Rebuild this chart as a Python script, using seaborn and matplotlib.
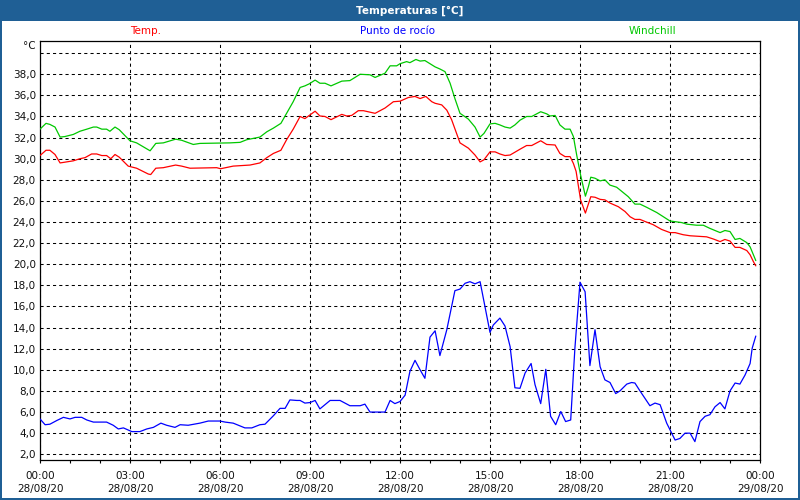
import matplotlib
matplotlib.use("Agg")
import matplotlib.pyplot as plt
from matplotlib.patches import Rectangle
from matplotlib.ticker import MultipleLocator, FixedLocator
import seaborn as sns
import pandas as pd

# ---------------- data ----------------
temp_hours = [0.0, 0.2, 0.33, 0.5, 0.67, 0.89, 1.11, 1.33, 1.5, 1.72, 1.89, 2.06, 2.22, 2.36, 2.5, 2.64,
              2.94, 3.22, 3.61, 3.69, 3.86, 4.11, 4.52, 4.72, 5.0, 5.89, 6.02, 6.44, 7.0, 7.33, 7.56,
              7.78, 8.03, 8.22, 8.44, 8.67, 8.83, 9.17, 9.33, 9.5, 9.7, 10.06, 10.22, 10.39, 10.61,
              10.78, 11.17, 11.5, 11.78, 12.0, 12.28, 12.5, 12.67, 12.86, 13.06, 13.17, 13.39, 13.56,
              13.72, 14.0, 14.28, 14.5, 14.67, 14.8, 15.0, 15.17, 15.33, 15.5, 15.67, 16.0, 16.22,
              16.39, 16.69, 16.89, 17.17, 17.33, 17.5, 17.67, 17.78, 17.87, 18.02, 18.18, 18.36, 18.5,
              18.67, 18.83, 19.0, 19.28, 19.5, 19.67, 19.83, 20.0, 20.17, 20.44, 20.72, 21.0, 21.17,
              21.44, 21.67, 22.22, 22.44, 22.67, 22.83, 23.0, 23.17, 23.33, 23.56, 23.67, 23.78, 23.86]
temp_values = [30.3, 30.8, 30.8, 30.4, 29.6, 29.7, 29.8, 30.0, 30.1, 30.45, 30.45, 30.3, 30.3, 30.0, 30.4,
               30.15, 29.3, 29.1, 28.55, 28.5, 29.1, 29.15, 29.4, 29.3, 29.1, 29.15, 29.05, 29.3, 29.4,
               29.6, 30.1, 30.5, 30.8, 31.8, 32.8, 34.0, 33.8, 34.5, 34.05, 34.0, 33.7, 34.2, 34.05,
               34.1, 34.55, 34.55, 34.3, 34.8, 35.4, 35.45, 35.8, 35.9, 35.7, 35.9, 35.4, 35.25, 35.1,
               34.6, 33.7, 31.5, 31.0, 30.35, 29.7, 29.9, 30.65, 30.65, 30.45, 30.3, 30.35, 30.9, 31.25,
               31.25, 31.7, 31.35, 31.3, 30.5, 30.2, 30.2, 29.55, 28.8, 26.1, 24.85, 26.4, 26.35, 26.15,
               26.1, 25.8, 25.45, 25.0, 24.5, 24.25, 24.25, 24.05, 23.75, 23.3, 23.0, 23.0, 22.8, 22.7,
               22.6, 22.4, 22.15, 22.35, 22.2, 21.6, 21.6, 21.3, 20.9, 20.25, 19.85]

dew_hours = [0.0, 0.17, 0.33, 0.56, 0.78, 1.0, 1.17, 1.39, 1.56, 1.78, 2.22, 2.44, 2.61, 2.78, 2.94, 3.06,
             3.33, 3.56, 3.78, 4.03, 4.22, 4.5, 4.67, 4.94, 5.33, 5.61, 6.0, 6.17, 6.44, 6.83, 7.06,
             7.33, 7.5, 7.78, 8.0, 8.17, 8.33, 8.56, 8.67, 8.83, 9.0, 9.17, 9.33, 9.67, 10.0, 10.33,
             10.67, 10.83, 11.0, 11.5, 11.67, 11.83, 12.0, 12.17, 12.33, 12.5, 12.67, 12.83, 13.0, 13.17,
             13.33, 13.56, 13.83, 14.0, 14.17, 14.33, 14.5, 14.67, 15.0, 15.11, 15.33, 15.5, 15.67,
             15.83, 16.0, 16.17, 16.37, 16.5, 16.69, 16.86, 17.02, 17.19, 17.36, 17.52, 17.69, 17.83,
             18.0, 18.17, 18.33, 18.5, 18.67, 18.83, 19.0, 19.19, 19.33, 19.56, 19.72, 19.83, 20.0,
             20.33, 20.5, 20.67, 20.89, 21.17, 21.33, 21.5, 21.67, 21.83, 22.0, 22.17, 22.33, 22.5,
             22.67, 22.83, 23.0, 23.17, 23.33, 23.5, 23.67, 23.74, 23.86]
dew_values = [5.35, 4.8, 4.85, 5.2, 5.5, 5.35, 5.5, 5.5, 5.25, 5.05, 5.05, 4.75, 4.4, 4.5, 4.3, 4.15,
              4.15, 4.4, 4.55, 4.95, 4.75, 4.55, 4.8, 4.75, 4.95, 5.15, 5.15, 5.05, 4.95, 4.5, 4.5,
              4.8, 4.85, 5.65, 6.35, 6.35, 7.15, 7.1, 7.1, 6.85, 6.9, 7.1, 6.3, 7.1, 7.1, 6.6,
              6.6, 6.75, 6.0, 6.0, 7.1, 6.8, 7.0, 7.6, 9.85, 10.9, 10.0, 9.2, 13.1, 13.7,
              11.35, 13.8, 17.5, 17.65, 18.2, 18.35, 18.15, 18.35, 13.55, 14.25, 14.9, 14.15, 12.2,
              8.3, 8.25, 9.7, 10.6, 8.6, 6.8, 10.05, 5.6, 4.8, 6.05, 5.1, 5.25, 12.05,
              18.3, 17.4, 10.4, 13.8, 10.3, 9.05, 8.8, 7.75, 8.0, 8.65, 8.8, 8.75, 8.0,
              6.6, 6.85, 6.7, 4.95, 3.35, 3.5, 4.0, 4.0, 3.2, 5.1, 5.6, 5.75, 6.5,
              6.9, 6.3, 8.0, 8.75, 8.65, 9.5, 10.6, 12.05, 13.2]

wind_hours = [0.0, 0.2, 0.33, 0.5, 0.67, 0.83, 1.11, 1.33, 1.56, 1.78, 1.89, 2.06, 2.22, 2.33, 2.5, 2.64,
              3.0, 3.22, 3.67, 3.86, 4.11, 4.52, 4.72, 5.11, 5.33, 6.33, 6.67, 6.89, 7.33, 7.56, 7.78,
              8.03, 8.22, 8.44, 8.67, 8.83, 8.98, 9.17, 9.33, 9.5, 9.7, 10.06, 10.33, 10.67, 11.0,
              11.17, 11.5, 11.67, 11.89, 12.0, 12.22, 12.33, 12.53, 12.67, 12.83, 13.0, 13.17, 13.33,
              13.5, 13.67, 13.83, 14.0, 14.13, 14.28, 14.5, 14.67, 14.8, 15.0, 15.17, 15.33, 15.5,
              15.67, 15.83, 16.0, 16.22, 16.39, 16.69, 16.89, 17.0, 17.17, 17.33, 17.5, 17.67, 17.78,
              17.89, 18.02, 18.18, 18.28, 18.36, 18.5, 18.67, 18.83, 19.0, 19.22, 19.33, 19.61, 19.83,
              20.0, 20.22, 20.56, 20.78, 21.0, 21.39, 21.56, 21.89, 22.11, 22.33, 22.67, 22.83, 23.0,
              23.17, 23.33, 23.56, 23.67, 23.78, 23.86]
wind_values = [32.8, 33.35, 33.25, 33.0, 32.05, 32.1, 32.3, 32.6, 32.8, 33.0, 33.0, 32.8, 32.8, 32.6, 33.0,
               32.75, 31.7, 31.5, 30.75, 31.45, 31.5, 31.85, 31.75, 31.35, 31.45, 31.5, 31.55, 31.8,
               32.05, 32.55, 32.9, 33.35, 34.3, 35.4, 36.75, 36.9, 37.1, 37.45, 37.15, 37.15, 36.9,
               37.35, 37.4, 38.0, 37.95, 37.7, 38.1, 38.8, 38.8, 39.0, 39.2, 39.1, 39.4, 39.25, 39.3,
               39.0, 38.7, 38.5, 38.25, 37.15, 35.7, 34.3, 34.05, 33.75, 33.0, 32.05, 32.4, 33.3,
               33.35, 33.2, 33.0, 32.9, 33.2, 33.65, 34.0, 34.0, 34.45, 34.25, 34.05, 34.1, 33.2,
               32.8, 32.8, 32.1, 30.35, 28.45, 26.45, 27.35, 28.25, 28.15, 27.9, 28.0, 27.5, 27.3,
               27.05, 26.4, 25.7, 25.7, 25.4, 24.9, 24.5, 24.1, 23.95, 23.8, 23.7, 23.7, 23.4, 23.0,
               23.2, 23.1, 22.35, 22.45, 22.05, 21.65, 20.9, 20.35]

x_tick_hours = [0, 3, 6, 9, 12, 15, 18, 21, 24]
x_tick_labels = ["00:00\n28/08/20", "03:00\n28/08/20", "06:00\n28/08/20", "09:00\n28/08/20",
                 "12:00\n28/08/20", "15:00\n28/08/20", "18:00\n28/08/20", "21:00\n28/08/20",
                 "00:00\n29/08/20"]
y_tick_values = list(range(2, 42, 2))
y_tick_labels = [f"{v},0" for v in range(2, 40, 2)] + [""]

series_names = ["Temp.", "Punto de rocío", "Windchill"]
series_colors = ["#ff0000", "#0000ff", "#00c800"]

# ---------------- figure ----------------
sns.set_theme(style="white")
plt.rcParams["font.family"] = ["DejaVu Sans"]

W, H = 800, 500
fig = plt.figure(figsize=(8, 5), dpi=100)
border_blue = "#1f5f95"
fig.patch.set_facecolor(border_blue)
bg = Rectangle((2 / W, 2.5 / H), 796 / W, 476.5 / H, transform=fig.transFigure,
               facecolor="white", edgecolor="none", zorder=-10)
fig.patches.append(bg)

fig.text(410 / W, 1 - 10.5 / H, "Temperaturas [°C]", color="white", fontweight="bold",
         fontsize=7.5, ha="center", va="center")

ax = fig.add_axes([40 / W, 1 - 460.3 / H, 720 / W, (460.3 - 40.7) / H])
ax.set_zorder(5)
ax.set_facecolor("white")

frames = [
    pd.DataFrame({"hora": temp_hours, "valor": temp_values}),
    pd.DataFrame({"hora": dew_hours, "valor": dew_values}),
    pd.DataFrame({"hora": wind_hours, "valor": wind_values}),
]
for df, col in zip(frames, series_colors):
    sns.lineplot(data=df, x="hora", y="valor", color=col, linewidth=0.9, ax=ax,
                 estimator=None, sort=False, zorder=3)

ax.set_xlim(0, 24)
ax.set_ylim(1.43, 41.18)
ax.set_xlabel("")
ax.set_ylabel("")

ax.xaxis.set_major_locator(FixedLocator(x_tick_hours))
ax.set_xticklabels(x_tick_labels, linespacing=1.45)
ax.xaxis.set_minor_locator(MultipleLocator(1))
ax.yaxis.set_major_locator(FixedLocator(y_tick_values))
ax.set_yticklabels(y_tick_labels)

ax.tick_params(axis="x", which="both", direction="out", length=2.5, width=0.8, color="black",
               labelsize=7.5, labelcolor="#111111", pad=5, bottom=True)
ax.tick_params(axis="y", which="both", length=0, labelsize=7.5, labelcolor="#111111", pad=3)

ax.grid(True, which="major", color="black", linestyle=(0, (3, 3)), linewidth=0.75)
ax.set_axisbelow(True)
for sp in ax.spines.values():
    sp.set_visible(True)
    sp.set_color("black")
    sp.set_linewidth(0.9)

fig.text(36 / W, 1 - 46 / H, "°C", fontsize=7.5, ha="right", va="center", color="#111111")

label_x = [146, 398, 652]
for name, col, lx in zip(series_names, series_colors, label_x):
    fig.text(lx / W, 1 - 31.5 / H, name, color=col, fontsize=7.5, ha="center", va="center")

fig.savefig("out.png", dpi=100, facecolor=fig.get_facecolor())
